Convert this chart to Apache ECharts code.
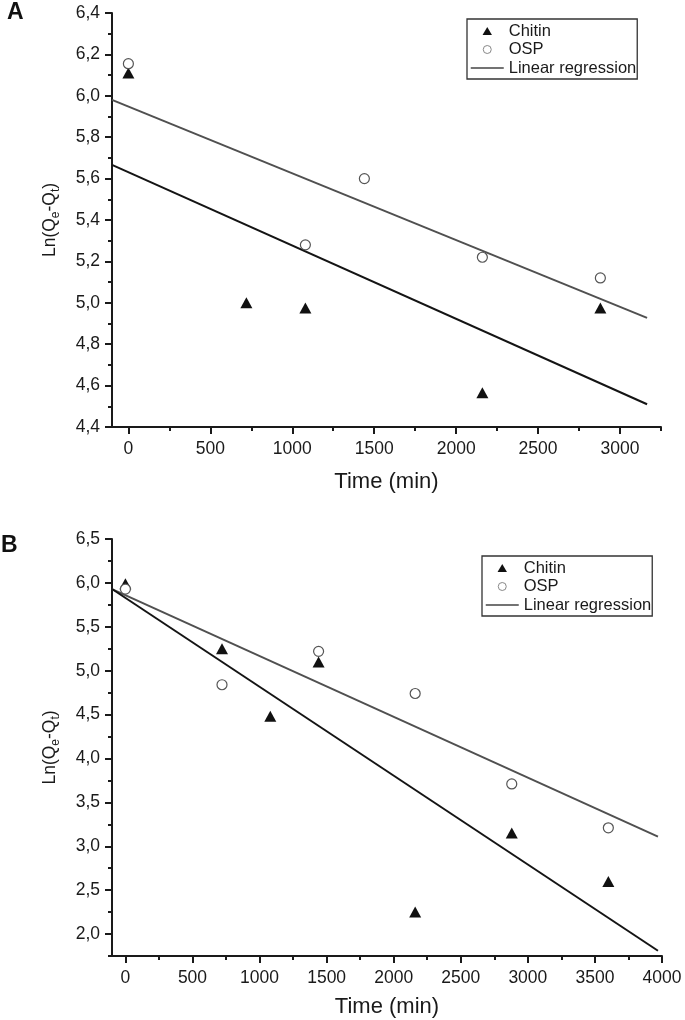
<!DOCTYPE html>
<html>
<head>
<meta charset="utf-8">
<script src="https://cdn.jsdelivr.net/npm/echarts@6/dist/echarts.min.js"></script>
<style>
html,body{margin:0;padding:0;background:#fff;}
#chart{width:685px;height:1020px;}
</style>
</head>
<body>
<div id="chart"></div>
<script>
// ---------- Data ----------
// Panel A
const chitinA = [[0, 6.11], [720, 5.00], [1080, 4.975], [2160, 4.565], [2880, 4.975]];
const ospA = [[0, 6.155], [1080, 5.28], [1440, 5.60], [2160, 5.22], [2880, 5.12]];
const chitinFitA = [[-100, 5.666], [3165, 4.51]];
const ospFitA = [[-100, 5.98], [3165, 4.927]];
// Panel B
const chitinB = [[0, 5.99], [720, 5.25], [1080, 4.48], [1440, 5.10], [2160, 2.25], [2880, 3.15], [3600, 2.60]];
const ospB = [[0, 5.93], [720, 4.84], [1440, 5.22], [2160, 4.74], [2880, 3.71], [3600, 3.21]];
const chitinFitB = [[-100, 5.93], [3970, 1.81]];
const ospFitB = [[-100, 5.93], [3970, 3.11]];
// Tick values
const xMajorA = [0, 500, 1000, 1500, 2000, 2500, 3000];
const xMinorA = [250, 750, 1250, 1750, 2250, 2750, 3250];
const yMajorA = [4.4, 4.6, 4.8, 5.0, 5.2, 5.4, 5.6, 5.8, 6.0, 6.2, 6.4];
const yMinorA = [4.5, 4.7, 4.9, 5.1, 5.3, 5.5, 5.7, 5.9, 6.1, 6.3];
const xMajorB = [0, 500, 1000, 1500, 2000, 2500, 3000, 3500, 4000];
const xMinorB = [250, 750, 1250, 1750, 2250, 2750, 3250, 3750];
const yMajorB = [2.0, 2.5, 3.0, 3.5, 4.0, 4.5, 5.0, 5.5, 6.0, 6.5];
const yMinorB = [1.75, 2.25, 2.75, 3.25, 3.75, 4.25, 4.75, 5.25, 5.75, 6.25];
const seriesNames = ['Chitin', 'OSP', 'Linear regression'];
const xTitle = 'Time (min)';
const panelLabels = ['A', 'B'];

// ---------- Styles ----------
const FONT = '"Liberation Sans", Arial, Helvetica, sans-serif';
const AX = '#1a1a1a';
const TXT = '#1a1a1a';
const fmtComma = v => v.toFixed(1).replace('.', ',');
const fmtPlain = v => String(Math.round(v));

function xAxes(grid, min, max, major, minor, gap) {
  return [
    {
      gridIndex: grid, type: 'value', min: min, max: max, position: 'bottom',
      axisLine: {show: true, onZero: false, lineStyle: {color: AX, width: 2}},
      axisTick: {show: true, inside: false, length: 7, customValues: major, lineStyle: {color: AX, width: 2}},
      axisLabel: {show: true, customValues: major, margin: 13, color: TXT, fontSize: 17.5, fontFamily: FONT,
                  formatter: fmtPlain, showMinLabel: true, showMaxLabel: true},
      splitLine: {show: false},
      name: xTitle, nameLocation: 'middle', nameGap: gap,
      nameTextStyle: {color: TXT, fontSize: 22, fontFamily: FONT}
    },
    {
      gridIndex: grid, type: 'value', min: min, max: max, position: 'bottom',
      axisLine: {show: false, onZero: false},
      axisTick: {show: true, inside: false, length: 4, customValues: minor, lineStyle: {color: AX, width: 2}},
      axisLabel: {show: false},
      splitLine: {show: false}
    }
  ];
}
function yAxes(grid, min, max, major, minor) {
  return [
    {
      gridIndex: grid, type: 'value', min: min, max: max, position: 'left',
      axisLine: {show: true, onZero: false, lineStyle: {color: AX, width: 2}},
      axisTick: {show: true, inside: false, length: 7, customValues: major, lineStyle: {color: AX, width: 2}},
      axisLabel: {show: true, customValues: major, margin: 12, color: TXT, fontSize: 17.5, fontFamily: FONT,
                  formatter: fmtComma, showMinLabel: true, showMaxLabel: true},
      splitLine: {show: false},
      name: 'Ln(Q{sub|e}-Q{sub|t})', nameLocation: 'middle', nameRotate: 90, nameGap: 50,
      nameTextStyle: {color: TXT, fontSize: 17.5, fontFamily: FONT,
        rich: {sub: {fontSize: 12, fontFamily: FONT, color: TXT, verticalAlign: 'bottom', padding: [12, 0, 0, 0]}}}
    },
    {
      gridIndex: grid, type: 'value', min: min, max: max, position: 'left',
      axisLine: {show: false, onZero: false},
      axisTick: {show: true, inside: false, length: 4, customValues: minor, lineStyle: {color: AX, width: 2}},
      axisLabel: {show: false},
      splitLine: {show: false}
    }
  ];
}

function scatterSeries(name, data, xi, yi, kind) {
  const s = {name: name, type: 'scatter', xAxisIndex: xi, yAxisIndex: yi, data: data, z: 5,
             emphasis: {disabled: true}};
  if (kind === 'tri') {
    s.symbol = 'triangle'; s.symbolSize = [12, 11];
    s.itemStyle = {color: '#111', opacity: 1};
  } else {
    s.symbol = 'circle'; s.symbolSize = 10;
    s.itemStyle = {color: '#fff', borderColor: '#555', borderWidth: 1.2, opacity: 1};
  }
  return s;
}
function lineSeries(data, xi, yi, color) {
  return {name: seriesNames[2], type: 'line', xAxisIndex: xi, yAxisIndex: yi, data: data,
          symbol: 'none', showSymbol: false, z: 2, silent: true,
          lineStyle: {color: color, width: 2}, itemStyle: {color: color},
          emphasis: {disabled: true}};
}
function legend(left, top) {
  return {
    orient: 'vertical', left: left, top: top, padding: [3, 1, 2, 3],
    itemWidth: 33, itemHeight: 8, itemGap: 0.5, symbolKeepAspect: true,
    borderColor: '#333', borderWidth: 1.3, backgroundColor: '#fff',
    selectedMode: false,
    textStyle: {color: TXT, fontSize: 16.5, fontFamily: FONT, lineHeight: 18},
    data: [
      {name: seriesNames[0], icon: 'path://M5,0 L10,8.5 L0,8.5 Z', itemStyle: {color: '#111', opacity: 1}},
      {name: seriesNames[1], icon: 'circle', itemStyle: {color: '#fff', borderColor: '#888', borderWidth: 1, opacity: 1}},
      {name: seriesNames[2], lineStyle: {color: '#444', width: 1.5},
       itemStyle: {color: 'rgba(0,0,0,0)', borderColor: 'rgba(0,0,0,0)', borderWidth: 0}}
    ]
  };
}

const chart = echarts.init(document.getElementById('chart'), null, {renderer: 'canvas'});
chart.setOption({
  animation: false,
  backgroundColor: '#fff',
  title: [
    {text: panelLabels[0], left: 7, top: 1, padding: 0, textStyle: {fontSize: 23, fontWeight: 'bold', color: '#111', fontFamily: FONT}},
    {text: panelLabels[1], left: 1, top: 534, padding: 0, textStyle: {fontSize: 23, fontWeight: 'bold', color: '#111', fontFamily: FONT}}
  ],
  grid: [
    {left: 112, right: 24, top: 13, height: 414, containLabel: false, outerBoundsMode: 'none'},
    {left: 112, right: 23, top: 539, height: 417, containLabel: false, outerBoundsMode: 'none'}
  ],
  legend: [legend(467, 19), legend(482, 556)],
  xAxis: [].concat(xAxes(0, -100, 3250, xMajorA, xMinorA, 44), xAxes(1, -100, 4000, xMajorB, xMinorB, 40)),
  yAxis: [].concat(yAxes(0, 4.4, 6.4, yMajorA, yMinorA), yAxes(1, 1.75, 6.5, yMajorB, yMinorB)),
  series: [
    lineSeries(ospFitA, 0, 0, '#505050'),
    lineSeries(chitinFitA, 0, 0, '#141414'),
    scatterSeries(seriesNames[0], chitinA, 0, 0, 'tri'),
    scatterSeries(seriesNames[1], ospA, 0, 0, 'circ'),
    lineSeries(ospFitB, 2, 2, '#505050'),
    lineSeries(chitinFitB, 2, 2, '#141414'),
    scatterSeries(seriesNames[0], chitinB, 2, 2, 'tri'),
    scatterSeries(seriesNames[1], ospB, 2, 2, 'circ')
  ]
});
</script>
</body>
</html>
